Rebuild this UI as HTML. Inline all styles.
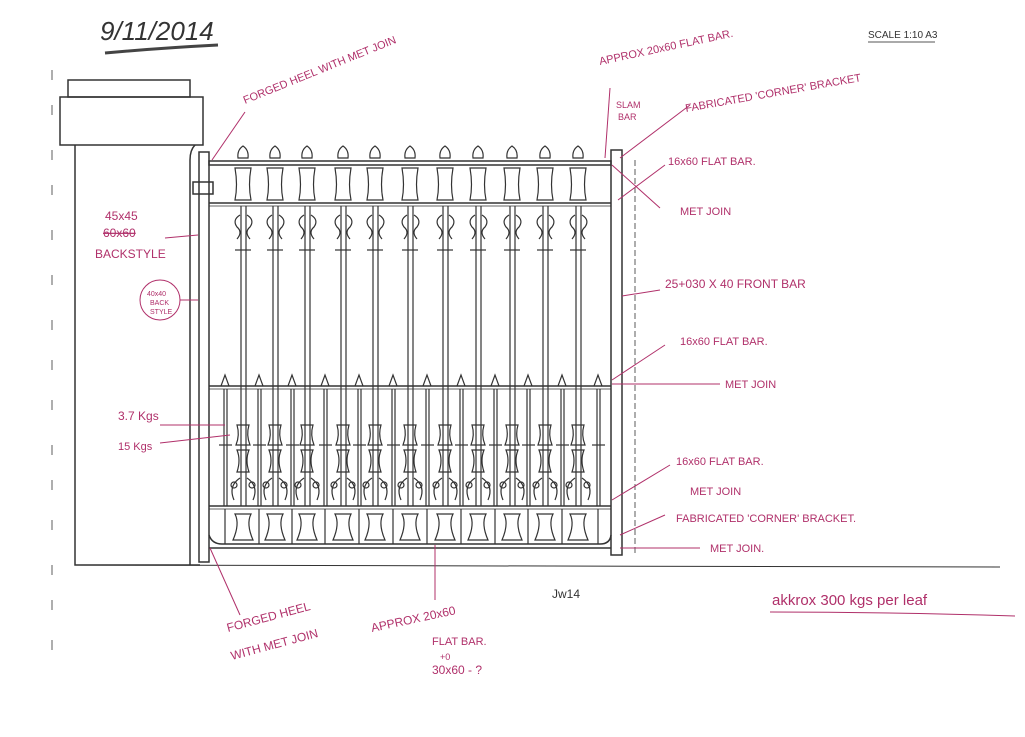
<!DOCTYPE html>
<html><head><meta charset="utf-8"><style>
html,body{margin:0;padding:0;background:#fff;}
svg{display:block}
.p{fill:#b0306a;font-family:"Liberation Sans",sans-serif;}
.k{fill:#333;font-family:"Liberation Sans",sans-serif;}
</style></head><body>
<svg width="1025" height="737" viewBox="0 0 1025 737" xmlns="http://www.w3.org/2000/svg">
<defs>
<g id="b" stroke="#333" stroke-width="1.2" fill="none">
<path d="M-5 158 Q-6 150 0 146 Q6 150 5 158 Z"/>
<path d="M-8 168 Q-5 185 -8 200 H8 Q5 185 8 168 Z"/>
<line x1="-2" y1="206" x2="-2" y2="506"/><line x1="3" y1="206" x2="3" y2="506"/>
<path d="M-3 215 q-8 5 -3 12 q6 5 0 12 M4 215 q8 5 3 12 q-6 5 0 12"/>
<line x1="-8" y1="250" x2="8" y2="250"/>
<path d="M-6 425 q3 10 -1 20 h14 q-4 -10 -1 -20 z"/>
<path d="M-6 450 q4 10 0 22 h12 q-4 -12 0 -22 z"/>
<path d="M-3 478 q-12 8 -6 22 M4 478 q12 8 6 22"/>
<circle cx="-9" cy="485" r="3"/><circle cx="9" cy="485" r="3"/>
<path d="M-8 514 q5 10 -2 26 h20 q-7 -16 -2 -26 z"/>
</g>
<g id="q" stroke="#333" stroke-width="1.2" fill="none">
<path d="M-4 386 L0 375 L4 386"/>
<line x1="-1" y1="389" x2="-1" y2="506"/><line x1="2" y1="389" x2="2" y2="506"/>
<line x1="-6" y1="445" x2="7" y2="445"/>
<line x1="0" y1="509" x2="0" y2="544"/>
</g>
</defs>
<rect width="1025" height="737" fill="#fff"/>
<g stroke="#777" stroke-width="1.2">
<line x1="52" y1="70" x2="52" y2="80"/><line x1="52" y1="105" x2="52" y2="115"/><line x1="52" y1="150" x2="52" y2="160"/><line x1="52" y1="185" x2="52" y2="195"/><line x1="52" y1="230" x2="52" y2="240"/><line x1="52" y1="275" x2="52" y2="285"/><line x1="52" y1="320" x2="52" y2="330"/><line x1="52" y1="360" x2="52" y2="370"/><line x1="52" y1="400" x2="52" y2="410"/><line x1="52" y1="445" x2="52" y2="455"/><line x1="52" y1="480" x2="52" y2="490"/><line x1="52" y1="520" x2="52" y2="530"/><line x1="52" y1="565" x2="52" y2="575"/><line x1="52" y1="600" x2="52" y2="610"/><line x1="52" y1="640" x2="52" y2="650"/>
</g>
<text x="100" y="40" class="k" font-size="26" font-style="italic">9/11/2014</text>
<path d="M105 53 Q160 48 218 45" stroke="#444" stroke-width="3" fill="none"/>
<text x="868" y="38" class="k" font-size="10">SCALE 1:10  A3</text>
<line x1="868" y1="42" x2="935" y2="42" stroke="#555"/>
<g stroke="#333" stroke-width="1.5" fill="none">
<rect x="68" y="80" width="122" height="17"/>
<rect x="60" y="97" width="143" height="48"/>
<path d="M75 145 V565 H200"/>
<path d="M195 145 Q190 150 190 160 V565"/>
<line x1="75" y1="565" x2="1000" y2="567" stroke-width="1"/>
<rect x="199" y="152" width="10" height="410"/>
<rect x="193" y="182" width="20" height="12"/>
<rect x="611" y="150" width="11" height="405"/>
<line x1="635" y1="160" x2="635" y2="555" stroke-width="0.8" stroke-dasharray="6 3"/>
<rect x="209" y="161" width="402" height="4"/>
<line x1="209" y1="203" x2="611" y2="203"/>
<line x1="209" y1="206" x2="611" y2="206" stroke-width="0.7"/>
<line x1="209" y1="386" x2="611" y2="386"/>
<line x1="209" y1="389" x2="611" y2="389" stroke-width="0.7"/>
<line x1="209" y1="506" x2="611" y2="506"/>
<line x1="209" y1="509" x2="611" y2="509" stroke-width="0.7"/>
<path d="M209 535 Q212 544 222 544 H600 Q610 544 611 535"/>
<line x1="209" y1="548" x2="611" y2="548"/>
</g>
<use href="#b" x="243"/><use href="#b" x="275"/><use href="#b" x="307"/><use href="#b" x="343"/><use href="#b" x="375"/><use href="#b" x="410"/><use href="#b" x="445"/><use href="#b" x="478"/><use href="#b" x="512"/><use href="#b" x="545"/><use href="#b" x="578"/>
<use href="#q" x="225"/><use href="#q" x="259"/><use href="#q" x="292"/><use href="#q" x="325"/><use href="#q" x="359"/><use href="#q" x="393"/><use href="#q" x="427"/><use href="#q" x="461"/><use href="#q" x="495"/><use href="#q" x="528"/><use href="#q" x="562"/><use href="#q" x="598"/>
<g stroke="#b0306a" stroke-width="1" fill="none">
<line x1="245" y1="112" x2="212" y2="160"/>
<line x1="610" y1="88" x2="605" y2="158"/>
<line x1="690" y1="105" x2="620" y2="158"/>
<line x1="665" y1="165" x2="618" y2="200"/>
<line x1="612" y1="165" x2="660" y2="208"/>
<line x1="165" y1="238" x2="198" y2="235"/>
<line x1="180" y1="300" x2="198" y2="300"/>
<line x1="660" y1="290" x2="622" y2="296"/>
<line x1="665" y1="345" x2="612" y2="380"/>
<line x1="612" y1="384" x2="720" y2="384"/>
<line x1="160" y1="425" x2="225" y2="425"/>
<line x1="160" y1="443" x2="230" y2="435"/>
<line x1="670" y1="465" x2="612" y2="500"/>
<line x1="665" y1="515" x2="620" y2="535"/>
<line x1="620" y1="548" x2="700" y2="548"/>
<line x1="240" y1="615" x2="210" y2="548"/>
<line x1="435" y1="600" x2="435" y2="545"/>
<circle cx="160" cy="300" r="20"/>
<path d="M770 612 Q880 612 1015 616"/>
</g>
<g class="p">
<text x="245" y="104" font-size="11" transform="rotate(-22 245 104)">FORGED HEEL WITH MET JOIN</text>
<text x="600" y="65" font-size="11" transform="rotate(-12 600 65)">APPROX 20x60 FLAT BAR.</text>
<text x="686" y="112" font-size="11" transform="rotate(-10 686 112)">FABRICATED 'CORNER' BRACKET</text>
<text x="616" y="108" font-size="9">SLAM</text><text x="618" y="120" font-size="9">BAR</text>
<text x="668" y="165" font-size="11">16x60 FLAT BAR.</text>
<text x="680" y="215" font-size="11">MET JOIN</text>
<text x="105" y="220" font-size="12">45x45</text>
<text x="103" y="237" font-size="12" text-decoration="line-through">60x60</text>
<text x="95" y="258" font-size="12">BACKSTYLE</text>
<text x="147" y="296" font-size="7">40x40</text><text x="150" y="305" font-size="7">BACK</text><text x="150" y="314" font-size="7">STYLE</text>
<text x="665" y="288" font-size="12">25+030 X 40 FRONT BAR</text>
<text x="680" y="345" font-size="11">16x60 FLAT BAR.</text>
<text x="725" y="388" font-size="11">MET JOIN</text>
<text x="118" y="420" font-size="12">3.7 Kgs</text>
<text x="118" y="450" font-size="11">15 Kgs</text>
<text x="676" y="465" font-size="11">16x60 FLAT BAR.</text>
<text x="690" y="495" font-size="11">MET JOIN</text>
<text x="676" y="522" font-size="11">FABRICATED 'CORNER' BRACKET.</text>
<text x="710" y="552" font-size="11">MET JOIN.</text>
<text x="228" y="632" font-size="12" transform="rotate(-15 228 632)">FORGED HEEL</text>
<text x="232" y="660" font-size="12" transform="rotate(-15 232 660)">WITH MET JOIN</text>
<text x="372" y="632" font-size="12" transform="rotate(-12 372 632)">APPROX 20x60</text>
<text x="432" y="645" font-size="11">FLAT BAR.</text>
<text x="440" y="660" font-size="9">+0</text>
<text x="432" y="674" font-size="12">30x60 - ?</text>
<text x="772" y="605" font-size="15">akkrox 300 kgs per leaf</text>
</g>
<text x="552" y="598" class="k" font-size="12">Jw14</text>
</svg>
</body></html>
